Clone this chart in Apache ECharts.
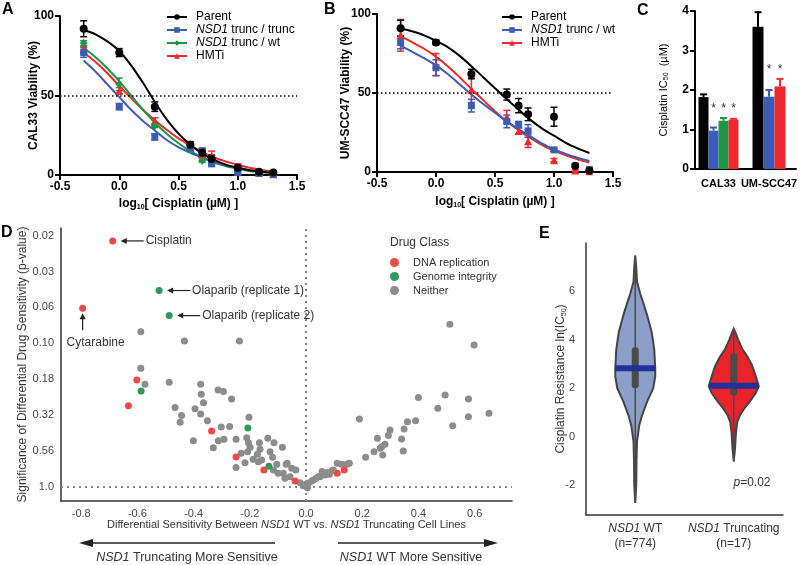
<!DOCTYPE html>
<html><head><meta charset="utf-8">
<script src="https://cdn.jsdelivr.net/npm/echarts@6/dist/echarts.min.js"></script>
<style>html,body{margin:0;padding:0;background:#fff}#c{width:800px;height:565px}</style>
</head><body><div id="c"></div>
<script>
// ================= DATA =================
// Panels A/B: log10 cisplatin concentrations
const concLog = [-0.3, 0, 0.3, 0.6, 0.7, 0.78, 1.0, 1.18, 1.3];
// Panel A (CAL33) viability %
const aParent    = [92, 77, 43, 19, 14, 10, 4.5, 2, 1.5];
const aParentErr = [5, 2.5, 3, 2, 2.5, 2.5, 1.5, 0.5, 0.5];
const aTrunc     = [77, 43, 24, 17, 15, 7, 1.5, 1, 0.5];
const aTruncErr  = [3, 2, 2, 1.5, 2, 1, 1, 0.5, 0.5];
const aWt        = [83, 57, 31, 15.5, 9, 8, 2.5, 1.5, 1];
const aWtErr     = [1.5, 4, 1, 1, 1, 1, 1, 0.5, 0.5];
const aHmti      = [79, 53, 34, 17, 13, 12, 5, 1.5, 0.5];
const aHmtiErr   = [2, 2, 2, 2, 2, 3, 2, 0.5, 0.5];
// fitted curves
const curveX     = [-0.3,-0.2,-0.1,0,0.1,0.2,0.3,0.4,0.5,0.6,0.7,0.8,0.9,1.0,1.1,1.2,1.3];
const aParentFit = [91,88.5,84,78,69,58,46,35,26,19,13.5,9.5,6.5,4.5,3,2,1.3];
const aTruncFit  = [72,65,57,49,41,34,28,22,17.5,14,11,8,6,4.5,3,2,1.5];
const aWtFit     = [80,74,67,59,50,41,33,26,20,15,11,8,5.5,4,2.5,1.8,1.2];
const aHmtiFit   = [77,71,64,56,48.5,41,34.5,28.5,23,18.5,14.5,11,8.5,6.5,4.5,3.2,2.2];
// Panel B (UM-SCC47)
const bParent    = [91, 82, 62, 49, 42, 36.5, 35, 4, 1];
const bParentErr = [5, 1.5, 3, 3.5, 4.5, 4, 6, 1, 1];
const bTrunc     = [82, 66, 42, 32, 30, 26, 14, null, 1.5];
const bTruncErr  = [4, 5, 4, 4, 2, 4, 1, 0, 1];
const bHmti      = [86.5, 68, 52, 35, 26, 19.5, 7.5, 1, 0.5];
const bHmtiErr   = [10, 7, 8, 4, 2, 4, 1, 0.5, 0.5];
const bParentFit = [91,89,86.5,83,79,73.5,67,60,53,46,39.5,33,27.5,23,18.5,15,12];
const bTruncFit  = [80,76,72,67.5,62,55.5,49,43,37.5,32,27,22.5,18,14.5,11.5,9,7];
const bHmtiFit   = [86,82,78,73,67,60,52.5,45.5,38.5,32,26.5,21.5,17,13.5,10.5,8,6];
// Panel C IC50 (uM)
const cGroups   = ['CAL33', 'UM-SCC47'];
const cCal33    = [1.82, 0.97, 1.22, 1.25];
const cCal33Err = [0.07, 0.08, 0.07, 0.02];
const cCal33Sig = [0, 1, 1, 1];
const cUm       = [3.60, 1.83, 2.09];
const cUmErr    = [0.37, 0.17, 0.19];
const cUmSig    = [0, 1, 1];
// Panel D: x = differential sensitivity, y = -log10(p)
const dRed = [[-0.688,1.714],[-0.795,1.244],[-0.602,0.744],[-0.632,0.565],[-0.336,0.388],[-0.249,0.207],[-0.150,0.116],[-0.039,0.040],[0.111,0.093],[0.136,0.116]];
const dGreen = [[-0.523,1.368],[-0.487,1.193],[-0.587,0.667],[-0.207,0.410],[-0.132,0.143]];
const dGrey = [[-0.588,1.081],[-0.433,1.016],[-0.237,1.016],[-0.588,0.826],[-0.573,0.714],[-0.487,0.728],
 [-0.375,0.714],[-0.373,0.645],[-0.365,0.586],[-0.313,0.674],[-0.294,0.663],[-0.265,0.611],
 [-0.466,0.552],[-0.443,0.497],[-0.448,0.449],[-0.395,0.544],[-0.375,0.507],[-0.351,0.460],
 [-0.302,0.416],[-0.272,0.420],[-0.203,0.484],[-0.401,0.321],[-0.312,0.321],[-0.292,0.330],[-0.330,0.272],[-0.249,0.330],
 [-0.211,0.342],[-0.205,0.307],[-0.199,0.275],[-0.208,0.244],[-0.166,0.307],[-0.164,0.261],[-0.173,0.226],
 [-0.136,0.338],[-0.114,0.307],[-0.084,0.275],[-0.231,0.233],[-0.217,0.167],[-0.249,0.133],
 [-0.188,0.191],[-0.170,0.174],[-0.158,0.186],[-0.128,0.244],[-0.119,0.205],[-0.104,0.156],[-0.071,0.156],
 [-0.116,0.116],[-0.099,0.093],[-0.081,0.093],[-0.067,0.163],[-0.051,0.128],[-0.036,0.116],[-0.075,0.058],[-0.057,0.070],
 [-0.021,0.028],[-0.004,0.012],[0.008,0.024],[0.026,0.047],[0.044,0.070],[0.005,-0.007],
 [0.512,1.132],[0.598,0.988],[0.400,0.621],[0.495,0.639],[0.578,0.612],[0.469,0.547],[0.190,0.472],[0.651,0.512],
 [0.578,0.488],[0.522,0.425],[0.390,0.460],[0.361,0.453],[0.349,0.402],[0.340,0.333],[0.346,0.249],[0.299,0.395],
 [0.293,0.356],[0.254,0.337],[0.281,0.296],[0.269,0.279],[0.264,0.268],[0.242,0.244],[0.273,0.221],[0.212,0.205],
 [0.111,0.163],[0.127,0.156],[0.145,0.156],[0.154,0.163],[0.097,0.116],[0.083,0.086],[0.068,0.082],[0.050,0.070],
 [0.036,0.058],[0.020,0.040],[0.005,0.023],[-0.010,0.007],[0.057,0.105],[0.074,0.098],[0.091,0.109]];
const dXTicks = [-0.8,-0.6,-0.4,-0.2,0,0.2,0.4,0.6];
const dYTicks = [0,0.25,0.5,0.75,1,1.25,1.5,1.75];
const dYLabels = ['1.0','0.56','0.32','0.18','0.10','0.06','0.03','0.02'];
const annText = ['Cisplatin','Olaparib (replicate 1)','Olaparib (replicate 2)','Cytarabine'];
const annPts  = [dRed[0], dGreen[0], dGreen[1], dRed[1]];
const annDir  = ['left','left','left','up'];
// Panel E violins: [ln(IC50), density]
const eCats = ['NSD1 WT', 'NSD1 Truncating'];
const eN = [774, 17];
const wtProfile = [[-2.74,0],[-2,0.04],[-1,0.05],[-0.2,0.07],[0.47,0.16],[0.9,0.28],[1.46,0.48],[2.0,0.72],[2.5,0.8],[2.8,0.8],[3.6,0.76],[4.3,0.66],[5.0,0.48],[5.5,0.33],[5.9,0.2],[6.4,0.07],[7.0,0.04],[7.48,0]];
const trProfile = [[-1.03,0],[-0.5,0.05],[0.2,0.09],[0.6,0.14],[0.89,0.25],[1.2,0.45],[1.44,0.64],[1.8,0.88],[2.08,1.0],[2.5,0.88],[2.95,0.73],[3.3,0.55],[3.64,0.33],[4.0,0.18],[4.3,0.07],[4.46,0]];
const eStats = [[-2.74,2.0,2.82,3.69,7.48],[-1.03,1.7,2.1,3.44,4.46]]; // min,q1,median,q3,max
const eYTicks = [-2,0,2,4,6];

// ================= STYLE =================
const F = 'Liberation Sans, Arial, Helvetica, sans-serif';
const BLK='#000', BLU='#3b5bb5', GRN='#1e9646', RED='#ee2a2e';
const zip = (xs, ys) => xs.map((x,i)=>[x, ys[i]]).filter(p=>p[1]!=null);

function prismX(idx, extra){ return Object.assign({type:'value', gridIndex:idx, min:-0.5, max:1.5, interval:0.5,
  axisLine:{onZero:false,lineStyle:{color:'#000',width:2}}, axisTick:{show:true,inside:false,length:5,lineStyle:{width:2,color:'#000'}},
  splitLine:{show:false}, axisLabel:{color:'#000',fontFamily:F,fontWeight:'bold',fontSize:12,margin:6,showMinLabel:true,showMaxLabel:true, formatter:v=>v.toFixed(1)},
  name:'{b|log}{s|10}{b|[ Cisplatin (µM) ]}', nameLocation:'middle', nameGap:22, nameMoveOverlap:false,
  nameTextStyle:{fontFamily:F,color:'#000',rich:{b:{fontFamily:F,fontWeight:'bold',fontSize:12,color:'#000'},s:{fontFamily:F,fontWeight:'bold',fontSize:7,color:'#000',padding:[7,0,0,0]}}}}, extra||{}); }
function prismY(idx, name, gap){ return {type:'value', gridIndex:idx, min:0, max:100, interval:50,
  axisLine:{show:true,onZero:false,lineStyle:{color:'#000',width:2}}, axisTick:{show:true,inside:false,length:5,lineStyle:{width:2,color:'#000'}},
  splitLine:{show:false}, axisLabel:{color:'#000',fontFamily:F,fontWeight:'bold',fontSize:12,margin:6,showMinLabel:true,showMaxLabel:true},
  name:name, nameLocation:'middle', nameGap:gap, nameMoveOverlap:false, nameTextStyle:{fontFamily:F,fontWeight:'bold',fontSize:12,color:'#000'}}; }

function errSeries(ax, xs, ys, es, color){
  return {type:'custom', xAxisIndex:ax, yAxisIndex:ax, z:3, silent:true, encode:{x:0,y:1},
    data: xs.map((x,i)=>[x, ys[i], es[i]]).filter(d=>d[1]!=null),
    renderItem(p, api){
      const x=api.value(0), y=api.value(1), e=api.value(2);
      const t=api.coord([x,y+e]), b=api.coord([x,Math.max(0,y-e)]), cw=3.5;
      const st={stroke:color,lineWidth:1.5};
      return {type:'group',children:[
        {type:'line',shape:{x1:t[0],y1:t[1],x2:b[0],y2:b[1]},style:st},
        {type:'line',shape:{x1:t[0]-cw,y1:t[1],x2:t[0]+cw,y2:t[1]},style:st},
        {type:'line',shape:{x1:b[0]-cw,y1:b[1],x2:b[0]+cw,y2:b[1]},style:st}]};
    }};
}
function curve(ax, name, ys, color, symbol){
  return {type:'line', name, xAxisIndex:ax, yAxisIndex:ax, data:zip(curveX, ys), smooth:0.35, showSymbol:false,
    symbol, symbolSize:8, lineStyle:{color,width:2}, itemStyle:{color}, z:2, silent:true};
}
function pts(ax, ys, color, symbol, size){
  return {type:'scatter', xAxisIndex:ax, yAxisIndex:ax, data:zip(concLog, ys), symbol, symbolSize:size,
    itemStyle:{color, opacity:1}, z:4, silent:true};
}
function dotted50(ax){
  return {type:'line', xAxisIndex:ax, yAxisIndex:ax, data:[], silent:true,
    markLine:{silent:true, symbol:'none', label:{show:false}, lineStyle:{color:'#000',width:1.5,type:[1.5,2.5]}, data:[{yAxis:50}]}};
}
// Panel C bar + error helpers
function cBars(ax, cat, vals, errs, sig, colors, bw){
  const n=vals.length, out=[];
  let starLevel=-Infinity;
  vals.forEach((v,i)=>{ if(sig[i]) starLevel=Math.max(starLevel, v+errs[i]); });
  vals.forEach((v,i)=>{
    out.push({type:'bar', xAxisIndex:ax, yAxisIndex:ax, data:[v], barWidth:bw, barGap:'0%', itemStyle:{color:colors[i]}, silent:true, z:2});
  });
  vals.forEach((v,i)=>{
    const off=(i-(n-1)/2)*bw;
    out.push({type:'custom', xAxisIndex:ax, yAxisIndex:ax, silent:true, z:3, data:[[0,v,errs[i]]],
      renderItem(p, api){
        const b=api.coord([0,api.value(1)]), t=api.coord([0,api.value(1)+api.value(2)]);
        const x=b[0]+off, cw=3.5, st={stroke:colors[i],lineWidth:2};
        const ch=[{type:'line',shape:{x1:x,y1:b[1],x2:x,y2:t[1]},style:st},
                  {type:'line',shape:{x1:x-cw,y1:t[1],x2:x+cw,y2:t[1]},style:st}];
        if(sig[i]){ const s=api.coord([0,starLevel]);
          ch.push({type:'text',x:x,y:s[1]-9,style:{text:'*',font:'12px '+F,fill:'#333',align:'center',verticalAlign:'middle'}}); }
        return {type:'group',children:ch};
      }});
  });
  return out;
}
function violinSeries(){
  const profiles=[wtProfile,trProfile], fills=['#8c9fcb','#e8232a'], scale=25;
  return {type:'custom', xAxisIndex:5, yAxisIndex:5, silent:true, z:3, data:[[0,0],[1,0]],
    renderItem(p, api){
      const i=p.dataIndex, prof=profiles[i], st=eStats[i];
      const cx=api.coord([i,0])[0];
      const L=[],R=[];
      prof.forEach(([v,d])=>{const y=api.coord([i,v])[1]; R.push([cx+d*scale,y]); L.push([cx-d*scale,y]);});
      const poly=R.concat(L.reverse());
      const dens=v=>{for(let k=1;k<prof.length;k++){if(v<=prof[k][0]){const a=prof[k-1],b=prof[k];return a[1]+(b[1]-a[1])*(v-a[0])/(b[0]-a[0]);}}return 0;};
      const y=v=>api.coord([i,v])[1];
      const mw=dens(st[2])*scale;
      return {type:'group',children:[
        {type:'polygon',shape:{points:poly},style:{fill:fills[i],stroke:'#444',lineWidth:2}},
        {type:'line',shape:{x1:cx,y1:y(st[0]),x2:cx,y2:y(st[4])},style:{stroke:'#4a4a4a',lineWidth:1.5}},
        {type:'rect',shape:{x:cx-3.5,y:y(st[3]),width:7,height:y(st[1])-y(st[3]),r:3},style:{fill:'#4a4a4a'}},
        {type:'rect',shape:{x:cx-mw,y:y(st[2])-3,width:2*mw,height:6},style:{fill:'#22319a'}}]};
    }};
}
function dAnn(){
  return {type:'custom', xAxisIndex:4, yAxisIndex:4, silent:true, z:5, data:annPts.map((p,i)=>[p[0],p[1],i]),
    renderItem(p, api){
      const c=api.coord([api.value(0),api.value(1)]), i=api.value(2);
      const st={stroke:'#222',lineWidth:1.2}, ch=[];
      if(annDir[i]==='left'){
        ch.push({type:'line',shape:{x1:c[0]+31,y1:c[1],x2:c[0]+13,y2:c[1]},style:st});
        ch.push({type:'polygon',shape:{points:[[c[0]+8,c[1]],[c[0]+14,c[1]-3],[c[0]+14,c[1]+3]]},style:{fill:'#222'}});
        ch.push({type:'text',x:c[0]+33,y:c[1],style:{text:annText[i],font:'12px '+F,fill:'#333',verticalAlign:'middle',align:'left'}});
      } else {
        ch.push({type:'line',shape:{x1:c[0],y1:c[1]+22,x2:c[0],y2:c[1]+10},style:st});
        ch.push({type:'polygon',shape:{points:[[c[0],c[1]+5],[c[0]-3,c[1]+11],[c[0]+3,c[1]+11]]},style:{fill:'#222'}});
        ch.push({type:'text',x:c[0]+13,y:c[1]+34,style:{text:annText[i],font:'12px '+F,fill:'#333',verticalAlign:'middle',align:'center'}});
      }
      return {type:'group',children:ch};
    }};
}

const grayAxisLine={show:true,onZero:false,lineStyle:{color:'#333',width:1.5}};
const italRich={i:{fontStyle:'italic',fontFamily:F,fontSize:12,color:'#000'}};

const option = {
  animation:false, backgroundColor:'#fff',
  textStyle:{fontFamily:F},
  grid:[
    {left:60, top:16, width:237, height:159, outerBoundsMode:'none'},
    {left:377, top:14, width:236, height:158, outerBoundsMode:'none'},
    {left:695, top:11, width:47, height:158, outerBoundsMode:'none'},
    {left:742, top:11, width:54, height:158, outerBoundsMode:'none'},
    {left:61, top:228, width:451, height:273, outerBoundsMode:'none'},
    {left:586, top:243, width:197, height:272, outerBoundsMode:'none'}
  ],
  xAxis:[
    prismX(0), prismX(1, {nameGap:23}),
    {type:'category', gridIndex:2, data:[cGroups[0]], axisLine:{onZero:false,lineStyle:{color:'#000',width:2}}, axisTick:{show:false},
      axisLabel:{color:'#000',fontFamily:F,fontWeight:'bold',fontSize:11,margin:9}},
    {type:'category', gridIndex:3, data:[cGroups[1]], axisLine:{onZero:false,lineStyle:{color:'#000',width:2}}, axisTick:{show:false},
      axisLabel:{color:'#000',fontFamily:F,fontWeight:'bold',fontSize:11,margin:9}},
    {type:'value', gridIndex:4, min:-0.872, max:0.733, axisLine:grayAxisLine, axisTick:{show:false}, splitLine:{show:false},
      axisLabel:{customValues:dXTicks, color:'#444', fontSize:11, fontFamily:F, margin:7, formatter:v=>(Math.abs(v)<1e-9?0:v).toFixed(1)},
      name:'Differential Sensitivity Between {i|NSD1} WT vs. {i|NSD1} Truncating Cell Lines', nameLocation:'middle', nameGap:18, nameMoveOverlap:false,
      nameTextStyle:{fontFamily:F,fontSize:11,color:'#333',rich:{i:{fontStyle:'italic',fontFamily:F,fontSize:11,color:'#333'}}}},
    {type:'category', gridIndex:5, data:eCats, axisLine:grayAxisLine, axisTick:{show:false},
      axisLabel:{interval:0, color:'#333',fontFamily:F,fontSize:12,margin:6,lineHeight:15,
        formatter:(v,i)=>v.replace('NSD1','{i|NSD1}')+'\n(n='+eN[i]+')',
        rich:{i:{fontStyle:'italic',fontFamily:F,fontSize:12,color:'#333',lineHeight:15}}}}
  ],
  yAxis:[
    prismY(0,'CAL33 Viability (%)',20), prismY(1,'UM-SCC47 Viability (%)',25),
    {type:'value', gridIndex:2, min:0, max:4, interval:1, axisLine:{show:true,onZero:false,lineStyle:{color:'#000',width:2}},
      axisTick:{show:true,length:5,lineStyle:{width:2,color:'#000'}}, splitLine:{show:false},
      axisLabel:{color:'#000',fontFamily:F,fontWeight:'bold',fontSize:12,margin:6},
      name:'Cisplatin IC{s|50}  (µM)', nameLocation:'middle', nameGap:25, nameMoveOverlap:false,
      nameTextStyle:{fontFamily:F,fontSize:11,color:'#000',rich:{s:{fontSize:7,fontFamily:F,color:'#000',padding:[6,0,0,0]}}}},
    {type:'value', gridIndex:3, min:0, max:4, interval:1, show:false},
    {type:'value', gridIndex:4, min:-0.1, max:1.804, axisLine:grayAxisLine, axisTick:{show:false}, splitLine:{show:false},
      axisLabel:{customValues:dYTicks, color:'#444', fontSize:11, fontFamily:F, margin:7,
        formatter:v=>{const k=dYTicks.findIndex(t=>Math.abs(t-v)<1e-6);return k>=0?dYLabels[k]:'';}},
      name:'Significance of Differential Drug Sensitivity (p-value)', nameLocation:'middle', nameGap:32, nameMoveOverlap:false,
      nameTextStyle:{fontFamily:F,fontSize:12,color:'#333'}},
    {type:'value', gridIndex:5, min:-3.24, max:8, axisLine:grayAxisLine, axisTick:{show:false}, splitLine:{show:false},
      axisLabel:{customValues:eYTicks, color:'#444', fontSize:11, fontFamily:F, margin:11},
      name:'Cisplatin Resistance ln(IC{s|50})', nameLocation:'middle', nameGap:18, nameMoveOverlap:false,
      nameTextStyle:{fontFamily:F,fontSize:12,color:'#333',rich:{s:{fontSize:7,fontFamily:F,color:'#333',padding:[7,0,0,0]}}}}
  ],
  legend:[
    {left:166, top:11, orient:'vertical', itemWidth:20, itemHeight:7, itemGap:1, padding:0, selectedMode:false,
      data:['A·Parent','A·NSD1 trunc / trunc','A·NSD1 trunc / wt','A·HMTi'],
      formatter:n=>n.slice(2).replace('NSD1','{i|NSD1}'),
      textStyle:{fontFamily:F,fontSize:12,color:'#000',lineHeight:12,padding:[0,0,0,4],rich:italRich}},
    {left:501, top:11, orient:'vertical', itemWidth:20, itemHeight:7, itemGap:1, padding:0, selectedMode:false,
      data:['B·Parent','B·NSD1 trunc / wt','B·HMTi'],
      formatter:n=>n.slice(2).replace('NSD1','{i|NSD1}'),
      textStyle:{fontFamily:F,fontSize:12,color:'#000',lineHeight:12,padding:[0,0,0,4],rich:italRich}},
    {left:390, top:256, orient:'vertical', icon:'circle', itemWidth:9, itemHeight:9, itemGap:1, padding:0, selectedMode:false,
      data:['DNA replication','Genome integrity','Neither'],
      textStyle:{fontFamily:F,fontSize:11,color:'#333',lineHeight:13,padding:[0,0,0,9]}}
  ],
  series:[
    // Panel A
    dotted50(0),
    curve(0,'A·HMTi',aHmtiFit,RED,'triangle'), curve(0,'A·NSD1 trunc / wt',aWtFit,GRN,'diamond'),
    curve(0,'A·NSD1 trunc / trunc',aTruncFit,BLU,'rect'), curve(0,'A·Parent',aParentFit,BLK,'circle'),
    errSeries(0,concLog,aHmti,aHmtiErr,RED), errSeries(0,concLog,aWt,aWtErr,GRN),
    errSeries(0,concLog,aTrunc,aTruncErr,BLU), errSeries(0,concLog,aParent,aParentErr,BLK),
    pts(0,aHmti,RED,'triangle',8), pts(0,aWt,GRN,'diamond',8), pts(0,aTrunc,BLU,'rect',7), pts(0,aParent,BLK,'circle',8),
    // Panel B
    dotted50(1),
    curve(1,'B·HMTi',bHmtiFit,RED,'triangle'), curve(1,'B·NSD1 trunc / wt',bTruncFit,BLU,'rect'), curve(1,'B·Parent',bParentFit,BLK,'circle'),
    errSeries(1,concLog,bHmti,bHmtiErr,RED), errSeries(1,concLog,bTrunc,bTruncErr,BLU), errSeries(1,concLog,bParent,bParentErr,BLK),
    pts(1,bHmti,RED,'triangle',8), pts(1,bTrunc,BLU,'rect',7), pts(1,bParent,BLK,'circle',8),
    // Panel C
    ...cBars(2, cGroups[0], cCal33, cCal33Err, cCal33Sig, [BLK,BLU,GRN,RED], 10),
    ...cBars(3, cGroups[1], cUm, cUmErr, cUmSig, [BLK,BLU,RED], 11),
    // Panel D
    {type:'scatter', name:'Neither', xAxisIndex:4, yAxisIndex:4, data:dGrey, symbolSize:7, itemStyle:{color:'#8c8c8c',opacity:1}, silent:true, z:2,
      markLine:{silent:true, symbol:'none', label:{show:false}, lineStyle:{color:'#888',width:2,type:[2,4]}, data:[{xAxis:0},{yAxis:0}]}},
    {type:'scatter', name:'DNA replication', xAxisIndex:4, yAxisIndex:4, data:dRed, symbolSize:7, itemStyle:{color:'#ef4a4a',opacity:1}, silent:true, z:3},
    {type:'scatter', name:'Genome integrity', xAxisIndex:4, yAxisIndex:4, data:dGreen, symbolSize:7, itemStyle:{color:'#2b9a5a',opacity:1}, silent:true, z:3},
    dAnn(),
    // Panel E
    violinSeries()
  ],
  graphic:[
    {type:'text', left:2, top:2, style:{text:'A', font:'bold 16px '+F, fill:'#000'}},
    {type:'text', left:324, top:2, style:{text:'B', font:'bold 16px '+F, fill:'#000'}},
    {type:'text', left:637, top:3, style:{text:'C', font:'bold 16px '+F, fill:'#000'}},
    {type:'text', left:1, top:225, style:{text:'D', font:'bold 16px '+F, fill:'#000'}},
    {type:'text', left:539, top:226, style:{text:'E', font:'bold 16px '+F, fill:'#000'}},
    {type:'text', left:390, top:237, style:{text:'Drug Class', font:'12px '+F, fill:'#333'}},
    // direction arrows under panel D
    {type:'line', shape:{x1:275,y1:543,x2:90,y2:543}, style:{stroke:'#222',lineWidth:1.5}},
    {type:'polygon', shape:{points:[[79,543],[93,539],[93,547]]}, style:{fill:'#222'}},
    {type:'line', shape:{x1:338,y1:543,x2:486,y2:543}, style:{stroke:'#222',lineWidth:1.5}},
    {type:'polygon', shape:{points:[[498,543],[484,539],[484,547]]}, style:{fill:'#222'}},
    {type:'text', x:187, y:558, style:{text:'{i|NSD1} Truncating More Sensitive', font:'12.5px '+F, fill:'#333', align:'center', verticalAlign:'middle',
      rich:{i:{fontStyle:'italic',fontFamily:F,fontSize:12.5,fill:'#333'}}}},
    {type:'text', x:411, y:558, style:{text:'{i|NSD1} WT More Sensitive', font:'12.5px '+F, fill:'#333', align:'center', verticalAlign:'middle',
      rich:{i:{fontStyle:'italic',fontFamily:F,fontSize:12.5,fill:'#333'}}}},
    {type:'text', x:752, y:483, style:{text:'{i|p}=0.02', font:'12px '+F, fill:'#333', align:'center', verticalAlign:'middle',
      rich:{i:{fontStyle:'italic',fontFamily:F,fontSize:12,fill:'#333'}}}}
  ]
};
const chart = echarts.init(document.getElementById('c'));
chart.setOption(option);
</script></body></html>
